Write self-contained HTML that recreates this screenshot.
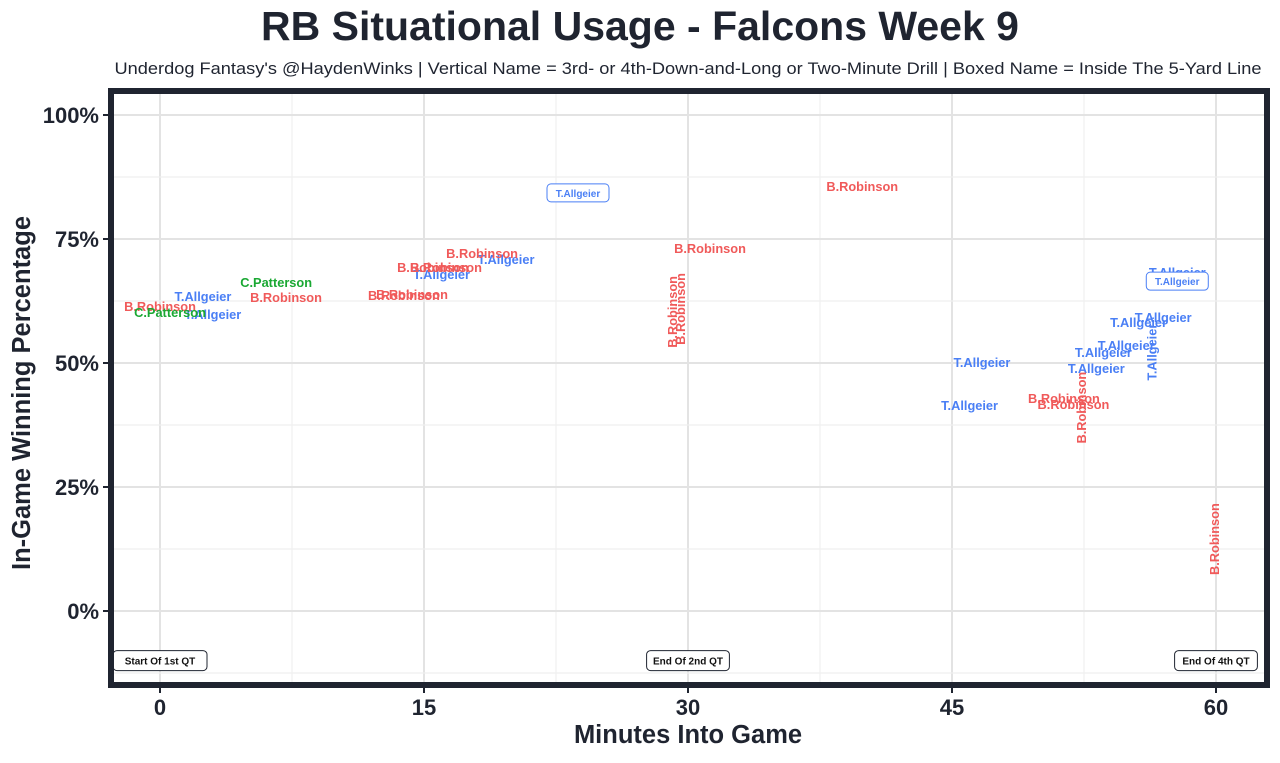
<!DOCTYPE html>
<html><head><meta charset="utf-8"><style>
body{margin:0;background:#fff;width:1280px;height:758px;overflow:hidden}
svg text{font-family:"Liberation Sans",sans-serif}
</style></head><body>
<svg id="c" width="1280" height="758" xmlns="http://www.w3.org/2000/svg">
<text x="640" y="40" text-anchor="middle" font-size="41" font-weight="bold" fill="#1f2430">RB Situational Usage - Falcons Week 9</text>
<text x="688" y="74" text-anchor="middle" font-size="17" textLength="1147" lengthAdjust="spacingAndGlyphs" fill="#1f2430">Underdog Fantasy's @HaydenWinks | Vertical Name = 3rd- or 4th-Down-and-Long or Two-Minute Drill | Boxed Name = Inside The 5-Yard Line</text>
<g id="grid"></g><g id="marks"></g>
<rect x="111" y="91" width="1156" height="594" fill="none" stroke="#1f2430" stroke-width="6"/>
<g id="axes"></g>
<text x="688" y="743" text-anchor="middle" font-size="25.5" font-weight="bold" fill="#1f2430">Minutes Into Game</text>
<text transform="translate(30,393) rotate(-90)" text-anchor="middle" font-size="25.5" font-weight="bold" fill="#1f2430">In-Game Winning Percentage</text>
</svg>
<script>
const xTicks=[0,15,30,45,60];
const yTicks=[0,25,50,75,100];
const rbX=[0,7.16,13.86,14.32,15.51,16.25,18.3,31.25,39.9,51.36,51.9];
const rbY=[61.3,63.1,63.5,63.7,69.2,69.2,72.0,73.0,85.5,42.7,41.5];
const rbVX=[29.15,29.6,52.4,59.94];
const rbVY=[60.3,60.9,41.0,14.5];
const taX=[2.44,3.0,16.0,19.66,46.7,46.0,53.2,53.6,54.9,55.6,57.0,57.8];
const taY=[63.3,59.7,67.7,70.8,50.0,41.3,48.8,52.0,53.4,58.1,59.1,68.1];
const taVX=[56.4];
const taVY=[52.2];
const taBX=[23.75,57.8];
const taBY=[84.3,66.5];
const cpX=[6.6,0.57];
const cpY=[66.1,60.1];
const qtLabels=["Start Of 1st QT","End Of 2nd QT","End Of 4th QT"];
const qtX=[0,30,60];
const qtY=[-10,-10,-10];
const X=v=>160+v*17.6, Y=v=>611-v*4.96;
const NS="http://www.w3.org/2000/svg";
function mk(tag,parent,attrs){const e=document.createElementNS(NS,tag);for(const k in attrs)e.setAttribute(k,attrs[k]);document.getElementById(parent).appendChild(e);return e;}
for(let v=-7.5;v<=67.5;v+=7.5){const x=X(v);if(x<114||x>1264)continue;const l=mk('line','grid',{x1:x,x2:x,y1:94,y2:682,stroke:xTicks.includes(v)?'#e3e3e3':'#efefef','stroke-width':xTicks.includes(v)?2:1.2});

}
for(let v=-12.5;v<=112.5;v+=12.5){const y=Y(v);if(y<94||y>682)continue;const l=mk('line','grid',{x1:114,x2:1264,y1:y,y2:y,stroke:yTicks.includes(v)?'#e3e3e3':'#efefef','stroke-width':yTicks.includes(v)?2:1.2});

}
xTicks.forEach(v=>{mk('line','axes',{x1:X(v),x2:X(v),y1:688,y2:693,stroke:'#1f2430','stroke-width':2});
const t=mk('text','axes',{x:X(v),y:715,'text-anchor':'middle','font-size':22,'font-weight':'bold',fill:'#1f2430'});t.textContent=v;

});
yTicks.forEach(v=>{mk('line','axes',{x1:103,x2:108,y1:Y(v),y2:Y(v),stroke:'#1f2430','stroke-width':2});
const t=mk('text','axes',{x:99,y:Y(v)+8,'text-anchor':'end','font-size':22,'font-weight':'bold',fill:'#1f2430'});t.textContent=v+'%';

});
function lab(xs,ys,name,color,mode){xs.forEach((x,i)=>{const cx=X(x),cy=Y(ys[i]);
if(mode==='box'){const r=mk('rect','marks',{x:cx-31,y:cy-9,width:62,height:18,rx:4,fill:'#fff',stroke:color,'stroke-width':1});

}
const t=mk('text','marks',{x:cx,y:cy+4,'text-anchor':'middle','font-size':mode==='box'?10:12.8,'font-weight':'bold',fill:color});
if(mode==='v')t.setAttribute('transform','rotate(-90 '+cx+' '+cy+')');
t.textContent=name;

});}
lab(taX,taY,'T.Allgeier','#4a7ff5','h');
lab(rbX,rbY,'B.Robinson','#f05a5a','h');
lab(rbVX,rbVY,'B.Robinson','#f05a5a','v');
lab(taVX,taVY,'T.Allgeier','#4a7ff5','v');
lab(cpX,cpY,'C.Patterson','#1aa833','h');
lab(taBX,taBY,'T.Allgeier','#4a7ff5','box');
qtLabels.forEach((s,i)=>{const cx=X(qtX[i]),cy=Y(qtY[i]),w=s.length*5.6+10;
const r=mk('rect','marks',{x:cx-w/2,y:cy-10,width:w,height:20,rx:4,fill:'#fff',stroke:'#1f2430','stroke-width':1});


const t=mk('text','marks',{x:cx,y:cy+4,'text-anchor':'middle','font-size':10,'font-weight':'bold',fill:'#111'});t.textContent=s;

});
</script>
</body></html>
